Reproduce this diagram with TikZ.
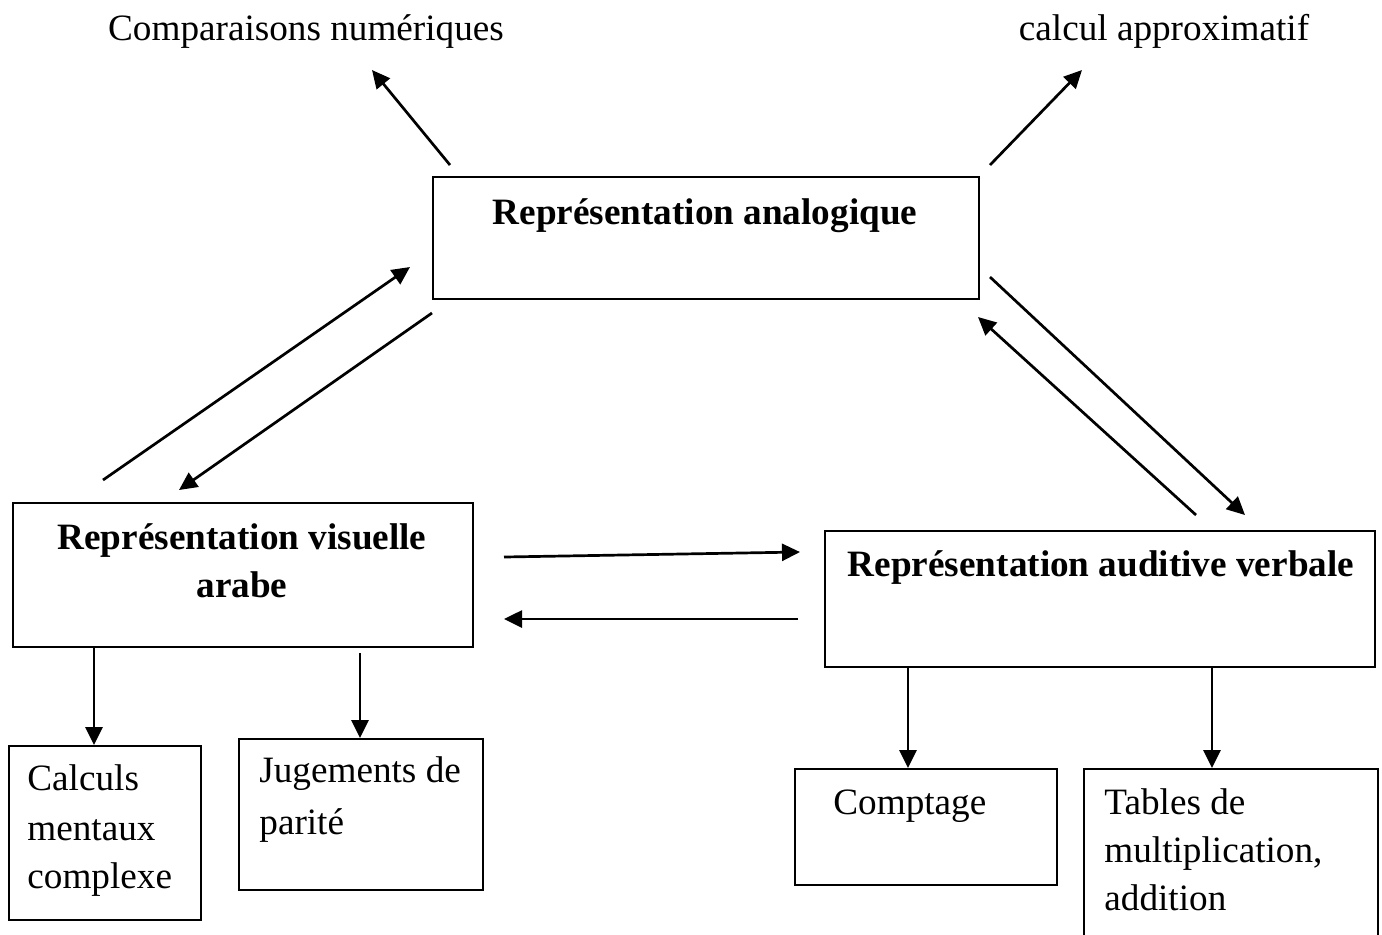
\documentclass[tikz,border=0pt]{standalone}
\usepackage{fontspec}
\setmainfont{Liberation Serif}
\usetikzlibrary{arrows.meta}
\begin{document}
\begin{tikzpicture}[x=0.5pt,y=-0.5pt,
  box/.style={draw,line width=1pt,anchor=north west,inner sep=0pt},
  txt/.style={inner sep=0pt,font=\fontsize{18.6}{24.5}\selectfont},
  btxt/.style={txt,font=\fontsize{18.6}{24.5}\selectfont\bfseries},
  arr/.style={line width=1.35pt,-{Triangle[length=9pt,width=8.5pt]}}]
\useasboundingbox (0,0) rectangle (1382,934);

% boxes
\node[box,minimum width=273pt,minimum height=61pt] (ana) at (432,176) {};
\node[box,minimum width=230pt,minimum height=72pt] (vis) at (12,502) {};
\node[box,minimum width=275pt,minimum height=68pt] (aud) at (824,530) {};
\node[box,minimum width=96pt,minimum height=87pt] (calc) at (8,745) {};
\node[box,minimum width=122pt,minimum height=75.5pt] (jug) at (238,738) {};
\node[box,minimum width=131pt,minimum height=58pt] (compt) at (794,768) {};
\node[box,minimum width=147pt,minimum height=90pt] (tab) at (1083,768) {};

% labels
\node[txt,anchor=base] (tcomp) at (306,40) {Comparaisons numériques};
\node[txt,anchor=base] (tapprox) at (1164,40) {calcul approximatif};
\node[btxt,anchor=base] (tana) at (705,224) {Représentation analogique};
\node[btxt,anchor=base] (tvis1) at (242,549) {Représentation visuelle};
\node[btxt,anchor=base] (tvis2) at (242,597) {arabe};
\node[btxt,anchor=base] (taud) at (1101,576) {Représentation auditive verbale};
\node[txt,anchor=base west] (tcalc1) at (27,790) {Calculs};
\node[txt,anchor=base west] (tcalc2) at (27,840) {mentaux};
\node[txt,anchor=base west] (tcalc3) at (27,888) {complexe};
\node[txt,anchor=base west] (tjug1) at (259,782) {Jugements de};
\node[txt,anchor=base west] (tjug2) at (259,834) {parité};
\node[txt,anchor=base west] (tcompt) at (833,814) {Comptage};
\node[txt,anchor=base west] (ttab1) at (1104,814) {Tables de};
\node[txt,anchor=base west] (ttab2) at (1104,862) {multiplication,};
\node[txt,anchor=base west] (ttab3) at (1104,910) {addition};

% connector ends
\coordinate (a1s) at (450,165);  \coordinate (a1e) at (372,70);
\coordinate (a2s) at (990,165);  \coordinate (a2e) at (1082,70);
\coordinate (a3s) at (103,480);  \coordinate (a3e) at (410,267);
\coordinate (a4s) at (432,313);  \coordinate (a4e) at (179,490);
\coordinate (a5s) at (990,277);  \coordinate (a5e) at (1245,515);
\coordinate (a6s) at (1196,515); \coordinate (a6e) at (978,317);
\coordinate (a7s) at (504,557);  \coordinate (a7e) at (800,552);
\coordinate (a8s) at (798,619);  \coordinate (a8e) at (504,619);

% connectors
\draw[arr] (a1s) -- (a1e);
\draw[arr] (a2s) -- (a2e);
\draw[arr] (a3s) -- (a3e);
\draw[arr] (a4s) -- (a4e);
\draw[arr] (a5s) -- (a5e);
\draw[arr] (a6s) -- (a6e);
\draw[arr] (a7s) -- (a7e);
\draw[arr] (a8s) -- (a8e);
\draw[arr] (94,646) -- (calc.north west -| 94,0);
\draw[arr] (360,653) -- (jug.north west -| 360,0);
\draw[arr] (908,668) -- (compt.north west -| 908,0);
\draw[arr] (1212,668) -- (tab.north west -| 1212,0);
\end{tikzpicture}
\end{document}
